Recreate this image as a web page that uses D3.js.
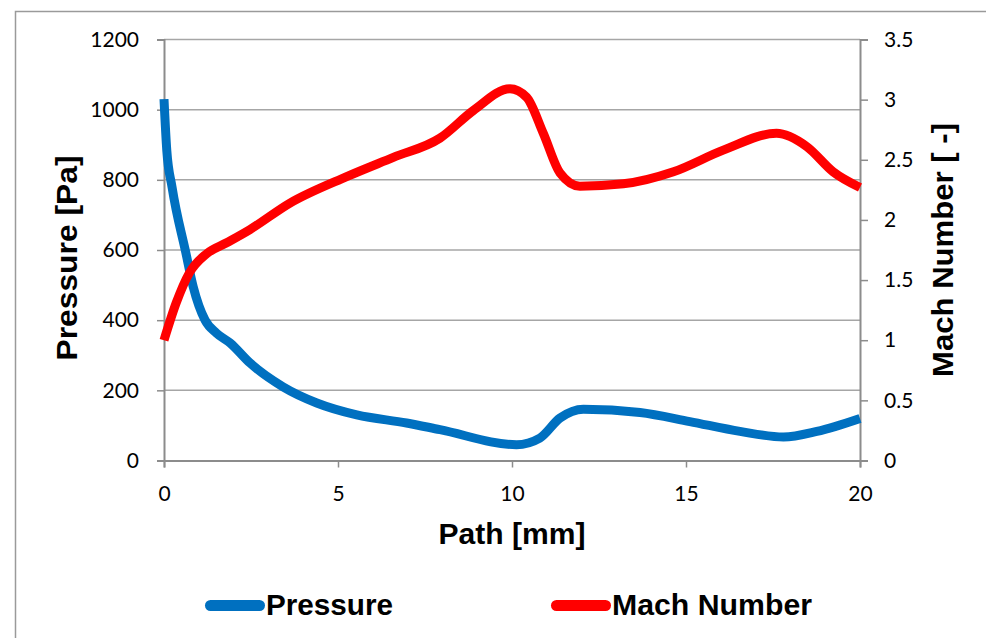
<!DOCTYPE html>
<html>
<head>
<meta charset="utf-8">
<script src="https://cdn.jsdelivr.net/npm/d3@7"></script>
<style>
  body { margin: 0; background: #fff; }
  svg { display: block; }
</style>
</head>
<body>
<div id="chart"></div>
<script>
// Values
var pathX    = [0, 0.08, 0.23, 0.63, 0.84, 1.18, 1.51, 1.9, 2.47, 3.42, 4.39, 5.54, 6.97, 7.93, 10.13, 10.8, 11.38, 12.05, 13.68, 15.11, 16.55, 17.8, 18.76, 20];
var pressure = [1030, 884, 780, 591, 495, 400, 363, 335, 278, 210, 164, 130, 107, 88, 45, 64, 121, 146, 137, 111, 83, 67, 83, 120];

var machX    = [0, 0.35, 0.73, 1.23, 1.8, 2.47, 3.62, 5.25, 6.59, 7.93, 8.89, 9.94, 10.42, 10.9, 11.38, 11.95, 13.2, 14.64, 16.07, 17.6, 18.47, 19.23, 20];
var mach     = [1.0, 1.31, 1.56, 1.72, 1.81, 1.92, 2.14, 2.36, 2.52, 2.68, 2.91, 3.09, 3.02, 2.72, 2.39, 2.28, 2.30, 2.40, 2.58, 2.72, 2.61, 2.40, 2.27];

var xTicks = [0, 5, 10, 15, 20];
var leftTicks = [0, 200, 400, 600, 800, 1000, 1200];
var rightTicks = [0, 0.5, 1, 1.5, 2, 2.5, 3, 3.5];

var width = 986, height = 638;
var plotLeft = 164, plotRight = 860, plotTop = 39.5, plotBottom = 460.5;
var tickFont = "Lato, 'Open Sans', sans-serif";
var boldFont = "'Liberation Sans', Arial, sans-serif";

var svg = d3.select("#chart").append("svg")
    .attr("width", width)
    .attr("height", height);

// outer chart border
svg.append("path")
    .attr("d", "M15.5," + height + "V11.5H" + width)
    .attr("fill", "none")
    .attr("stroke", "#9a9a9a")
    .attr("stroke-width", 1.5);

var x = d3.scaleLinear().domain([0, 20]).range([plotLeft, plotRight]);
var yL = d3.scaleLinear().domain([0, 1200]).range([plotBottom, plotTop]);
var yR = d3.scaleLinear().domain([0, 3.5]).range([plotBottom, plotTop]);

// gridlines
svg.append("g")
    .selectAll("line")
    .data(leftTicks.filter(function(d) { return d > 0; }))
    .enter()
    .append("line")
    .attr("x1", plotLeft).attr("x2", plotRight)
    .attr("y1", function(d) { return yL(d); })
    .attr("y2", function(d) { return yL(d); })
    .attr("stroke", "#a6a6a6")
    .attr("stroke-width", 1.5);

// left axis
var gL = svg.append("g")
    .attr("transform", "translate(" + plotLeft + ",0)")
    .call(d3.axisLeft(yL).tickValues(leftTicks).tickSize(7).tickPadding(18).tickFormat(d3.format("d")));

// right axis
var gR = svg.append("g")
    .attr("transform", "translate(" + plotRight + ",0)")
    .call(d3.axisRight(yR).tickValues(rightTicks).tickSize(8).tickPadding(16).tickFormat(function(d) { return d; }));

// bottom axis
var gB = svg.append("g")
    .attr("transform", "translate(0," + plotBottom + ")")
    .call(d3.axisBottom(x).tickValues(xTicks).tickSize(7).tickPadding(19).tickFormat(d3.format("d")));

[gL, gR, gB].forEach(function(g) {
    g.select(".domain").attr("stroke", "#8c8c8c").attr("stroke-width", 2);
    g.selectAll(".tick line").attr("stroke", "#8c8c8c").attr("stroke-width", 1.5);
    g.selectAll(".tick text")
        .attr("fill", "#000")
        .style("font-family", tickFont)
        .style("font-size", "21px");
});

// lines
var pressureLine = d3.line()
    .x(function(d, i) { return x(pathX[i]); })
    .y(function(d) { return yL(d); })
    .curve(d3.curveMonotoneX);

var machLine = d3.line()
    .x(function(d, i) { return x(machX[i]); })
    .y(function(d) { return yR(d); })
    .curve(d3.curveMonotoneX);

svg.append("path")
    .datum(pressure)
    .attr("d", pressureLine)
    .attr("fill", "none")
    .attr("stroke", "#0070c0")
    .attr("stroke-width", 9)
    .attr("stroke-linejoin", "round");

svg.append("path")
    .datum(mach)
    .attr("d", machLine)
    .attr("fill", "none")
    .attr("stroke", "#ff0000")
    .attr("stroke-width", 9)
    .attr("stroke-linejoin", "round");

// bold titles
function boldText(sel, len) {
    return sel
        .style("font-family", boldFont)
        .style("font-weight", "bold")
        .style("font-size", "30px")
        .attr("textLength", len)
        .attr("lengthAdjust", "spacingAndGlyphs");
}

boldText(svg.append("text")
    .attr("transform", "translate(77,258) rotate(-90)")
    .attr("text-anchor", "middle")
    .text("Pressure [Pa]"), 205);

boldText(svg.append("text")
    .attr("transform", "translate(953,250) rotate(-90)")
    .attr("text-anchor", "middle")
    .text("Mach Number [ -]"), 254);

boldText(svg.append("text")
    .attr("x", 512)
    .attr("y", 544)
    .attr("text-anchor", "middle")
    .text("Path [mm]"), 147);

// legend
var legendItems = [
    { name: "Pressure", color: "#0070c0", x0: 205, len: 127 },
    { name: "Mach Number", color: "#ff0000", x0: 551, len: 200 }
];
var lg = svg.append("g");
lg.selectAll("line")
    .data(legendItems)
    .enter()
    .append("line")
    .attr("x1", function(d) { return d.x0 + 5.5; })
    .attr("x2", function(d) { return d.x0 + 54.5; })
    .attr("y1", 605.5).attr("y2", 605.5)
    .attr("stroke", function(d) { return d.color; })
    .attr("stroke-width", 11)
    .attr("stroke-linecap", "round");
lg.selectAll("text")
    .data(legendItems)
    .enter()
    .append("text")
    .attr("x", function(d) { return d.x0 + 61; })
    .attr("y", 615)
    .text(function(d) { return d.name; })
    .each(function(d) { boldText(d3.select(this), d.len); });
</script>
</body>
</html>
